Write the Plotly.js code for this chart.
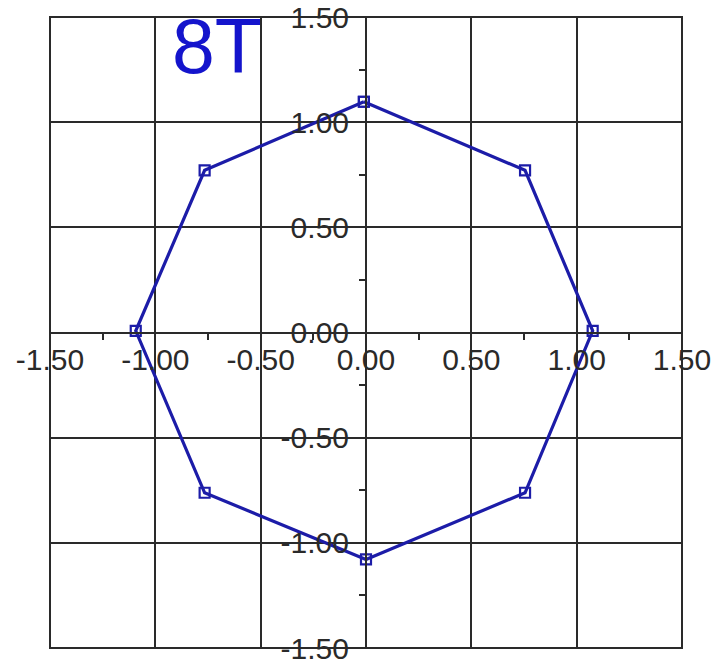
<!DOCTYPE html>
<html>
<head>
<meta charset="utf-8">
<script src="https://cdn.plot.ly/plotly-3.0.1.min.js"></script>
<style>html,body{margin:0;padding:0;background:#fff;}#chart{width:717px;height:665px;}</style>
</head>
<body>
<div id="chart"></div>
<script>
// Data (closed octagon, clockwise from top)
const pointX = [-0.01, 0.755, 1.076, 0.755, 0.0, -0.766, -1.093, -0.766, -0.01];
const pointY = [1.097, 0.771, 0.008, -0.762, -1.079, -0.762, 0.008, 0.771, 1.097];
const tickVals = [-1.5, -1.0, -0.5, 0.0, 0.5, 1.0, 1.5];
const tickText = ["-1.50", "-1.00", "-0.50", "0.00", "0.50", "1.00", "1.50"];
const chartLabel = "8T";

const gridCol = "#2a2a2a";
const lineCol = "#1c1ca8";
const fontFam = "Liberation Sans, Arial, sans-serif";

const trace = {
  x: pointX, y: pointY,
  type: "scatter", mode: "lines+markers",
  line: {color: lineCol, width: 3.2},
  marker: {symbol: "square-open", size: 10, color: lineCol, line: {width: 2.2, color: lineCol}},
  hoverinfo: "skip"
};

function axis(standoff) {
  return {
    range: [-1.5, 1.5],
    tickmode: "array", tickvals: tickVals, ticktext: tickText,
    showgrid: true, gridcolor: gridCol, gridwidth: 2,
    zeroline: true, zerolinecolor: gridCol, zerolinewidth: 2,
    showline: true, linecolor: gridCol, linewidth: 2,
    anchor: "free", position: 0.5,
    ticks: "outside", ticklen: 0, tickcolor: gridCol, tickwidth: 2,
    ticklabelstandoff: standoff,
    minor: {dtick: 0.25, tick0: 0, ticks: "outside", ticklen: 6, tickcolor: gridCol, tickwidth: 2, showgrid: false},
    tickfont: {family: fontFam, size: 30, color: "#2a2a2a"},
    fixedrange: true
  };
}

const xa = axis(0);
const ya = axis(10);

const layout = {
  width: 717, height: 665,
  margin: {l: 50, r: 35, t: 17, b: 17, pad: 0},
  paper_bgcolor: "#ffffff", plot_bgcolor: "#ffffff",
  showlegend: false,
  xaxis: xa, yaxis: ya,
  shapes: [{type: "rect", xref: "paper", yref: "paper", x0: 0, x1: 1, y0: 0, y1: 1,
            line: {color: gridCol, width: 2}, layer: "below"}],
  annotations: [{
    text: chartLabel, xref: "paper", yref: "paper", x: 0.265, y: 0.954,
    xanchor: "center", yanchor: "middle", showarrow: false,
    font: {family: fontFam, size: 77, color: "#1414cc"}
  }]
};

Plotly.newPlot("chart", [trace], layout, {staticPlot: true, displayModeBar: false});
</script>
</body>
</html>
